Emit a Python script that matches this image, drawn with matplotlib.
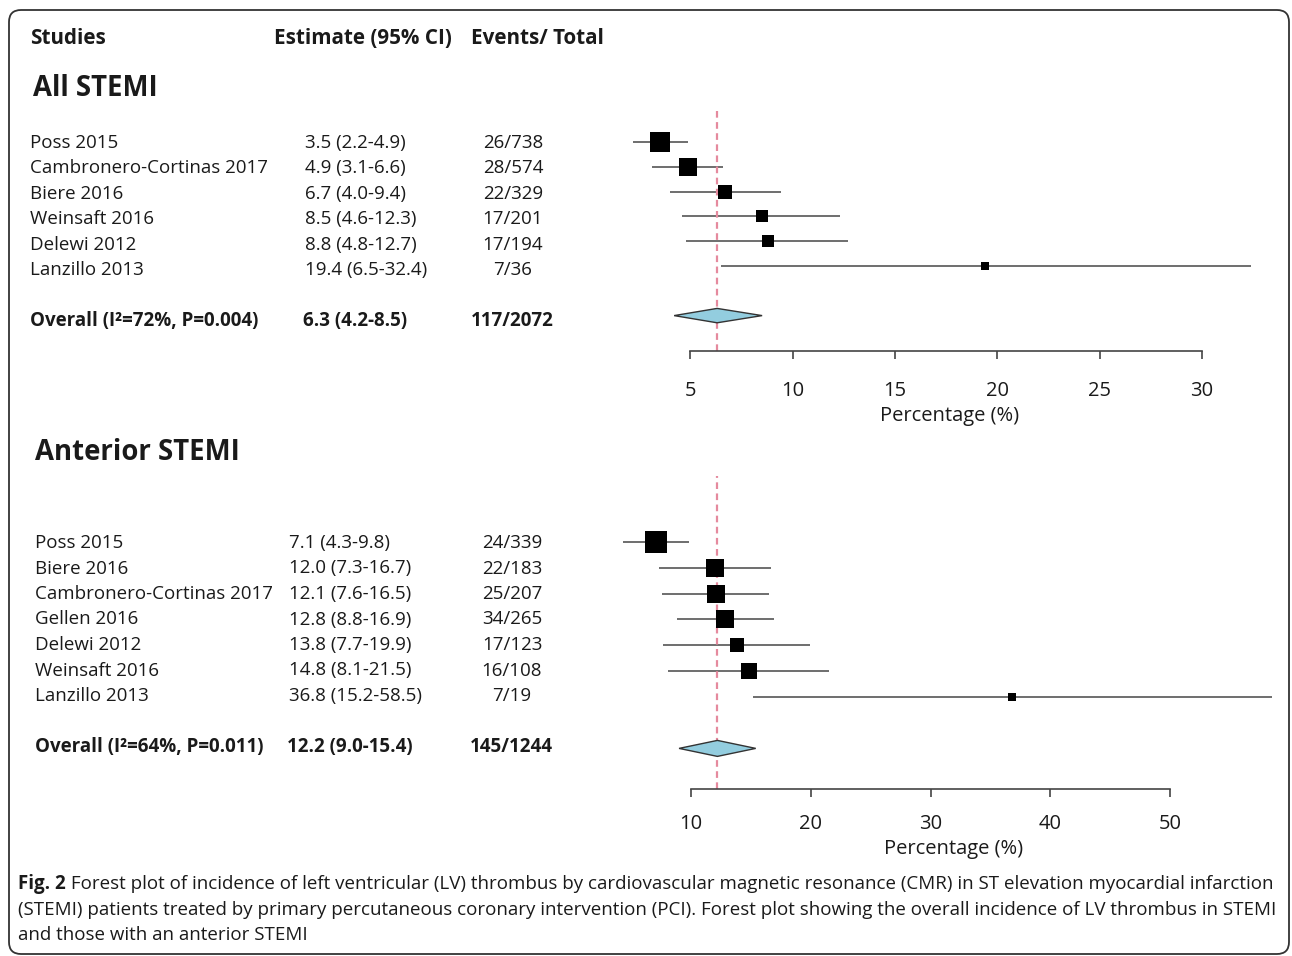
import numpy as np
import matplotlib
matplotlib.use("Agg")
import matplotlib.pyplot as plt
from matplotlib.patches import FancyBboxPatch
from matplotlib.transforms import IdentityTransform

W, H = 1292, 956

# All STEMI
studies_all = ["Poss 2015", "Cambronero-Cortinas 2017", "Biere 2016",
               "Weinsaft 2016", "Delewi 2012", "Lanzillo 2013"]
est_all = [3.5, 4.9, 6.7, 8.5, 8.8, 19.4]
lo_all = [2.2, 3.1, 4.0, 4.6, 4.8, 6.5]
hi_all = [4.9, 6.6, 9.4, 12.3, 12.7, 32.4]
events_all = ["26/738", "28/574", "22/329", "17/201", "17/194", "7/36"]
weight_all = [31.8, 25.8, 15.6, 11.5, 11.5, 3.9]
overall_all = [6.3, 4.2, 8.5]
overall_all_label = "Overall (I²=72%, P=0.004)"
overall_all_events = "117/2072"
ticks_all = [5, 10, 15, 20, 25, 30]

# Anterior STEMI
studies_ant = ["Poss 2015", "Biere 2016", "Cambronero-Cortinas 2017", "Gellen 2016",
               "Delewi 2012", "Weinsaft 2016", "Lanzillo 2013"]
est_ant = [7.1, 12.0, 12.1, 12.8, 13.8, 14.8, 36.8]
lo_ant = [4.3, 7.3, 7.6, 8.8, 7.7, 8.1, 15.2]
hi_ant = [9.8, 16.7, 16.5, 16.9, 19.9, 21.5, 58.5]
events_ant = ["24/339", "22/183", "25/207", "34/265", "17/123", "16/108", "7/19"]
weight_ant = [24.1, 15.8, 15.8, 17.7, 10.7, 12.3, 3.5]
overall_ant = [12.2, 9.0, 15.4]
overall_ant_label = "Overall (I²=64%, P=0.011)"
overall_ant_events = "145/1244"
ticks_ant = [10, 20, 30, 40, 50]

caption_bold = "Fig. 2"
caption_lines = [
    " Forest plot of incidence of left ventricular (LV) thrombus by cardiovascular magnetic resonance (CMR) in ST elevation myocardial infarction",
    "(STEMI) patients treated by primary percutaneous coronary intervention (PCI). Forest plot showing the overall incidence of LV thrombus in STEMI",
    "and those with an anterior STEMI",
]

TXT = "#1a1a1a"
RED = "#e58a9e"
GREY = "#555555"
BLUE = "#93cddf"

plt.rcParams['font.family'] = ['Open Sans', 'DejaVu Sans']
fig = plt.figure(figsize=(W / 100, H / 100), dpi=100)
ident = IdentityTransform()


def put(x, y, s, **kw):
    kw.setdefault('color', TXT)
    kw.setdefault('va', 'center')
    return fig.text(x, H - y, s, transform=ident, **kw)


# outer rounded frame
fig.patches.append(FancyBboxPatch((9, H - 954), 1280, 944, boxstyle="round,pad=0,rounding_size=12",
                                  transform=ident, fill=False, edgecolor="#333333", lw=1.3))


def forest(box, xlim, row0, step, est, lo, hi, weight, k, overall, dh, ticks, pad, lab_xy):
    left, top, right, bottom = box
    ax = fig.add_axes([left / W, 1 - bottom / H, (right - left) / W, (bottom - top) / H])
    ax.patch.set_visible(False)
    rows = np.arange(len(est))
    ov_row = len(est) + 1
    ax.set_xlim(*xlim)
    ax.set_ylim((bottom - row0) / step, (top - row0) / step)
    ax.hlines(rows, lo, hi, color=GREY, lw=1.2, zorder=2)
    ax.axvline(overall[0], color=RED, lw=1.6, ls=(0, (3, 2)), zorder=2.5)
    for r, e, w in zip(rows, est, weight):
        ax.plot(e, r, 's', ms=k * np.sqrt(w) / 1.389, color='black', mew=0, zorder=3)
    e, l, h = overall
    ax.fill([l, e, h, e], [ov_row, ov_row - dh, ov_row, ov_row + dh],
            facecolor=BLUE, edgecolor="#333333", lw=1.0, zorder=3)
    for s in ['top', 'right', 'left']:
        ax.spines[s].set_visible(False)
    ax.spines['bottom'].set_bounds(ticks[0], ticks[-1])
    ax.spines['bottom'].set_color('#444444')
    ax.spines['bottom'].set_linewidth(1.2)
    ax.set_yticks([])
    ax.set_xticks(ticks)
    ax.tick_params(axis='x', direction='out', length=5.8, width=1.2, color='#444444',
                   labelsize=14.5, pad=pad, labelcolor=TXT)
    ax.set_xlabel("Percentage (%)", fontsize=14.5, color=TXT)
    ax.xaxis.set_label_coords(*lab_xy)
    return ax


forest((600, 108, 1290, 351), (0.577, 34.30), 142, 24.8, est_all, lo_all, hi_all,
       weight_all, 3.55, overall_all, 0.29, ticks_all, 15.5, (0.507, -0.225))
forest((600, 476, 1290, 789), (2.40, 60.0), 542, 25.8, est_ant, lo_ant, hi_ant,
       weight_ant, 4.28, overall_ant, 0.31, ticks_ant, 12.0, (0.513, -0.16))

# headers
hfs = 14.9
put(30, 39, "Studies", fontsize=hfs, fontweight='bold')
put(274, 39, "Estimate (95% CI)", fontsize=hfs, fontweight='bold')
put(471, 39, "Events/ Total", fontsize=hfs, fontweight='bold')
put(33, 88, "All STEMI", fontsize=19.8, fontweight='bold')
put(35, 453, "Anterior STEMI", fontsize=19.8, fontweight='bold')

fs = 13.5
for i, (n, e, l, h, ev) in enumerate(zip(studies_all, est_all, lo_all, hi_all, events_all)):
    y = 143 + 25.4 * i
    put(30, y, n, fontsize=fs)
    put(305, y, f"{e:.1f} ({l:.1f}-{h:.1f})", fontsize=fs)
    put(513, y, ev, fontsize=fs, ha='center')
put(30, 321, overall_all_label, fontsize=fs, fontweight='bold')
put(303, 321, f"{overall_all[0]:.1f} ({overall_all[1]:.1f}-{overall_all[2]:.1f})", fontsize=fs, fontweight='bold')
put(512, 321, overall_all_events, fontsize=fs, fontweight='bold', ha='center')

for i, (n, e, l, h, ev) in enumerate(zip(studies_ant, est_ant, lo_ant, hi_ant, events_ant)):
    y = 543 + 25.5 * i
    put(35, y, n, fontsize=fs)
    put(289, y, f"{e:.1f} ({l:.1f}-{h:.1f})", fontsize=fs)
    put(512, y, ev, fontsize=fs, ha='center')
put(35, 747, overall_ant_label, fontsize=fs, fontweight='bold')
put(287, 747, f"{overall_ant[0]:.1f} ({overall_ant[1]:.1f}-{overall_ant[2]:.1f})", fontsize=fs, fontweight='bold')
put(511, 747, overall_ant_events, fontsize=fs, fontweight='bold', ha='center')

# caption, sized so the first line spans the frame width
cap_fam = ['Open Sans', 'DejaVu Sans']
r = fig.canvas.get_renderer()
tb = put(18, 884, caption_bold, fontsize=10, fontweight='bold', family=cap_fam)
t1 = put(18, 884, caption_lines[0], fontsize=10, family=cap_fam)
wtot = tb.get_window_extent(r).width + t1.get_window_extent(r).width
cfs = 10 * (1273 - 18) / wtot
tb.set_fontsize(cfs)
t1.set_fontsize(cfs)
t1.set_x(18 + tb.get_window_extent(r).width)
put(18, 910, caption_lines[1], fontsize=cfs, family=cap_fam)
put(18, 935, caption_lines[2], fontsize=cfs, family=cap_fam)

fig.savefig("out.png", dpi=100)
